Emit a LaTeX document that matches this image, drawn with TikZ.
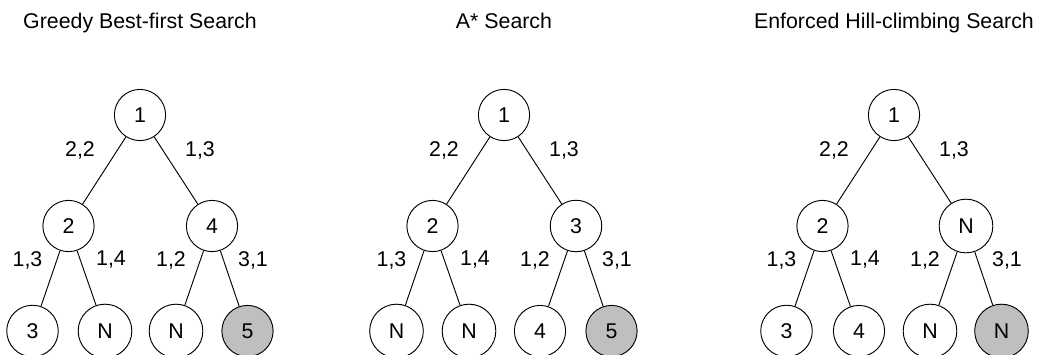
\documentclass[tikz,border=0pt]{standalone}
\usepackage{fontspec}
\setmainfont{Liberation Sans}
\usetikzlibrary{calc}
\tikzset{
  tn/.style={circle, draw, line width=0.7pt, inner sep=8.6pt, font=\fontsize{16}{19}\selectfont},
  goal/.style={tn, fill=gray!50},
  lbl/.style={inner sep=0pt, font=\fontsize{16}{19}\selectfont},
  ttl/.style={inner sep=0pt, anchor=base, font=\fontsize{16}{19}\selectfont},
  treeedge/.style={line width=0.7pt}
}
\newcommand\searchtree[9]{%
  \begin{scope}[xshift={#2*0.75pt}]
    \node[tn] (#1r) at (140,115) {#3};
    \node[tn] (#1a) at (68.5,226) {#4};
    \node[tn] (#1b) at (212,226) {#5};
    \node[tn] (#1aa) at (32.5,331) {#6};
    \node[tn] (#1ab) at (105,331) {#7};
    \node[tn] (#1ba) at (176,331) {#8};
    \node[goal] (#1bb) at (247.5,331) {#9};
    \draw[treeedge] (#1r) -- (#1a);
    \draw[treeedge] (#1r) -- (#1b);
    \draw[treeedge] (#1a) -- (#1aa);
    \draw[treeedge] (#1a) -- (#1ab);
    \draw[treeedge] (#1b) -- (#1ba);
    \draw[treeedge] (#1b) -- (#1bb);
    \node[lbl] (#1l1) at (80,150.5) {2,2};
    \node[lbl] (#1l2) at (200,150.5) {1,3};
    \node[lbl] (#1l3) at (27.5,260) {1,3};
    \node[lbl] (#1l4) at (111,260) {1,4};
    \node[lbl] (#1l5) at (171,260) {1,2};
    \node[lbl] (#1l6) at (253,260) {3,1};
  \end{scope}}
\begin{document}
\begin{tikzpicture}[x=0.75pt, y=-0.75pt]
  \useasboundingbox (0,0) rectangle (1042,354);
  \node[ttl] (t1) at (140,28) {Greedy Best-first Search};
  \node[ttl] (t2) at (504,28) {A* Search};
  \node[ttl] (t3) at (894,28) {Enforced Hill-climbing Search};
  \searchtree{g}{0}{1}{2}{4}{3}{N}{N}{5}
  \searchtree{s}{364}{1}{2}{3}{N}{N}{4}{5}
  \searchtree{e}{754}{1}{2}{N}{3}{4}{N}{N}
\end{tikzpicture}
\end{document}
